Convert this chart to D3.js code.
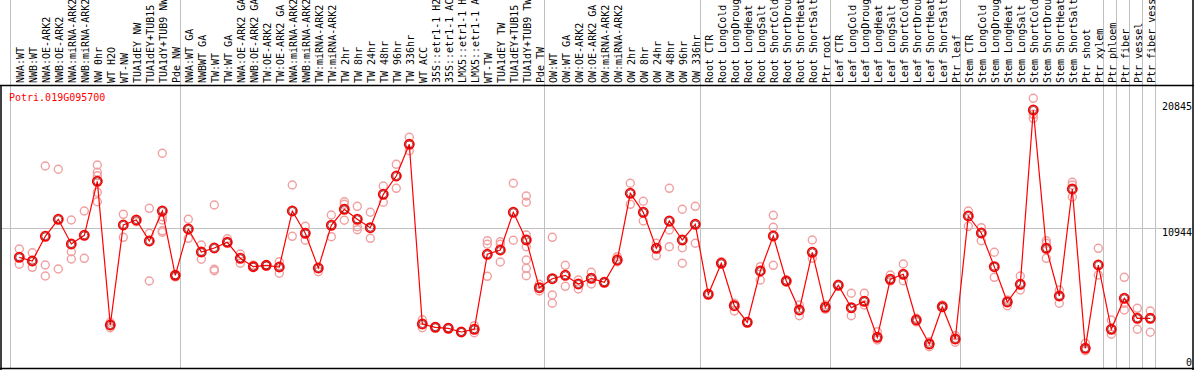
<!DOCTYPE html>
<html>
<head>
<meta charset="utf-8">
<script src="https://cdn.jsdelivr.net/npm/d3@7"></script>
<style>
  body { margin: 0; background: #fff; }
  svg { display: block; font-family: "DejaVu Sans Mono", monospace; }
</style>
</head>
<body>
<script>
const gene = "Potri.019G095700";

const samples = [
  "NWA:WT", "NWB:WT", "NWA:OE-ARK2", "NWB:OE-ARK2", "NWA:miRNA-ARK2", "NWB:miRNA-ARK2",
  "NW 0hr", "WT H2O", "WT-NW", "TUA1dEY NW", "TUA1dEY+TUB15 NW", "TUA1dY+TUB9 NW", "Pde NW",
  "NWA:WT GA", "NWBWT GA", "TW:WT", "TW:WT GA", "NWA:OE-ARK2 GA", "NWB:OE-ARK2 GA",
  "TW:OE-ARK2", "TW:OE-ARK2 GA", "NWA:miRNA-ARK2 GA", "NWB:miRNA-ARK2 GA", "TW:miRNA-ARK2",
  "TW:miRNA-ARK2 GA", "TW 2hr", "TW 8hr", "TW 24hr", "TW 48hr", "TW 96hr", "TW 336hr",
  "WT ACC", "35S::etr1-1 H2O", "35S::etr1-1 ACC", "LMX5::etr1-1 H2O", "LMX5::etr1-1 ACC",
  "WT-TW", "TUA1dEY TW", "TUA1dEY+TUB15 TW", "TUA1dY+TUB9 TW", "Pde TW",
  "OW:WT", "OW:WT GA", "OW:OE-ARK2", "OW:OE-ARK2 GA", "OW:miRNA-ARK2", "OW:miRNA-ARK2 GA",
  "OW 2hr", "OW 8hr", "OW 24hr", "OW 48hr", "OW 96hr", "OW 336hr",
  "Root CTR", "Root LongCold", "Root LongDrought", "Root LongHeat", "Root LongSalt",
  "Root ShortCold", "Root ShortDrought", "Root ShortHeat", "Root ShortSalt", "Ptr root",
  "Leaf CTR", "Leaf LongCold", "Leaf LongDrought", "Leaf LongHeat", "Leaf LongSalt",
  "Leaf ShortCold", "Leaf ShortDrought", "Leaf ShortHeat", "Leaf ShortSalt", "Ptr leaf",
  "Stem CTR", "Stem LongCold", "Stem LongDrought", "Stem LongHeat", "Stem LongSalt",
  "Stem ShortCold", "Stem ShortDrought", "Stem ShortHeat", "Stem ShortSalt",
  "Ptr shoot", "Ptr xylem", "Ptr phloem", "Ptr fiber", "Ptr vessel", "Ptr fiber vessel"
];

// mean expression per sample
const means = [
  8655, 8363, 10312, 11654, 9705, 10391, 14652, 3314, 11204, 11598, 9941, 12308, 7235,
  10888, 9074, 9389, 9839, 8576, 7914, 8024, 7890, 12308, 10549, 7811, 11180,
  12443, 11654, 10991, 13626, 15070, 17571, 3393, 3132, 3053, 2762, 2975,
  8892, 9231, 12206, 10020, 6257,
  6967, 7235, 6549, 6998, 6683, 8442, 13705, 12206, 9365, 11519, 10020, 11259,
  5736, 8182, 4837, 3527, 7574, 10336, 6785, 4497, 9050, 4710,
  6446, 4679, 5184, 2343, 6920, 7314, 3708, 1815, 4758, 2209,
  11914, 10573, 7914, 5129, 6525, 20277, 9365, 5602, 14044,
  1475, 8048, 2975, 5420, 3842, 3842
];

// individual replicates per sample
const replicates = [
  [9310, 8103], [9018, 7866], [15859, 8048, 7180], [15599, 7732], [11598, 9097, 8521],
  [12308, 8576], [15938, 15362, 15094, 13784, 13042], [3527, 3101], [12048, 10233], [11464],
  [12521, 10549, 6785], [16861, 11859, 11598, 10754, 10628], [7259, 7101],
  [11654, 10154], [9626, 8498], [12782, 7709, 7598], [10123, 9839], [8916, 8182],
  [7914, 8048], [8048, 7969], [8308, 7393], [14360, 10312], [11101, 9997], [7519],
  [11993, 10281], [13042, 12837, 11575], [12679, 11070, 10833], [12206, 10154],
  [14281, 12995], [15993, 14099], [18123, 17066], [3732, 3101], [3180], [3101], [2785],
  [3259, 2706], [9965, 9681, 7156], [9886, 9681, 8285], [14494, 9997],
  [13492, 12995, 10415, 9492, 8442, 7787, 7204], [6525, 5996],
  [10233, 5681, 5026], [8024, 6367], [6864, 6154], [7472, 6549], [6730], [8703, 8308],
  [14494, 12837], [13074, 11519], [9760, 8782], [14099, 10809, 9492], [12443, 9413, 8182],
  [12679, 9760],
  [5815], [8308], [5026, 4418], [3574], [7914, 6864], [11969, 11022, 8024], [6864, 6683],
  [4892, 4048], [10020, 8576], [4892, 4553],
  [6525], [5815, 4048], [5815, 4892], [2785, 2130], [7259, 6785], [8127, 6809], [3850, 3560],
  [1996, 1602], [4892, 4679], [2470, 1949],
  [12308, 11101], [10991, 9965], [9050, 7077], [5286, 4837], [7180, 6075],
  [21200, 19938, 19622], [9965, 9760, 8576], [6075, 5026], [14573, 14360, 13413],
  [1870, 1286], [9365, 7259], [3708, 2580], [7077, 5026, 4497], [4631, 2975], [4418, 2738]
];

// samples followed by a vertical separator
const groupEnds = ["Pde NW", "Pde TW", "OW 336hr", "Ptr root", "Ptr leaf",
  "Ptr xylem", "Ptr phloem", "Ptr fiber", "Ptr vessel", "Ptr fiber vessel"];

const yTicks = [0, 10944, 20845];
const yMax = 22250;

const width = 1194, height = 370;
const plotTop = 85, plotBottom = 367;

const svg = d3.select("body").append("svg")
    .attr("width", width)
    .attr("height", height);

const x = d3.scalePoint(samples, [19.3, 1150.3]);
const y = d3.scaleLinear([0, yMax], [plotBottom, plotTop]);

// grid
const grid = svg.append("g")
    .attr("stroke", "#c0c0c0")
    .attr("stroke-width", 1);

grid.selectAll("line.v")
  .data([x(samples[0]) - 9.3, ...groupEnds.map(d => x(d) + 5)])
  .join("line")
    .attr("class", "v")
    .attr("x1", d => Math.round(d) + 0.5)
    .attr("x2", d => Math.round(d) + 0.5)
    .attr("y1", 0)
    .attr("y2", 369);

grid.append("line")
    .attr("x1", 1)
    .attr("x2", 1193)
    .attr("y1", Math.round(y(10944)) + 0.5)
    .attr("y2", Math.round(y(10944)) + 0.5);

// sample labels, rotated (long ones run off the top, as in the source)
svg.append("g")
    .attr("font-size", 10)
    .attr("fill", "#000")
  .selectAll("text")
  .data(samples)
  .join("text")
    .attr("transform", d => `translate(${x(d) + 4.2},83) rotate(-90)`)
    .text(d => d);

// frame
const frame = svg.append("g")
    .attr("stroke", "#000")
    .attr("stroke-width", 1.5)
    .attr("fill", "none");
frame.append("line").attr("x1", 0).attr("x2", width).attr("y1", 85.5).attr("y2", 85.5);
frame.append("line").attr("x1", 1).attr("x2", 1).attr("y1", 85).attr("y2", 370);
frame.append("line").attr("x1", 0).attr("x2", width).attr("y1", 368.5).attr("y2", 368.5);
frame.append("line").attr("x1", 1193).attr("x2", 1193).attr("y1", 0).attr("y2", 370);

// y labels on the right
const yAxis = svg.append("g")
    .attr("transform", "translate(1192,0)")
    .call(d3.axisLeft(y).tickValues(yTicks).tickSize(0).tickPadding(0).tickFormat(d3.format("d")));
yAxis.select(".domain").remove();
yAxis.selectAll("text")
    .attr("font-family", "DejaVu Sans Mono, monospace")
    .attr("font-size", 10)
    .attr("fill", "#000")
    .attr("dy", d => d === 0 ? "-0.2em" : "0.7em");

// gene name
svg.append("text")
    .attr("x", 9)
    .attr("y", 101)
    .attr("font-size", 10)
    .attr("fill", "#ff0000")
    .text(gene);

// replicate points
const reps = samples.flatMap((s, i) => replicates[i].map(v => ({s, v})));
svg.append("g")
    .attr("fill", "none")
    .attr("stroke", "#f0a0a0")
    .attr("stroke-width", 1.4)
  .selectAll("circle")
  .data(reps)
  .join("circle")
    .attr("cx", d => x(d.s))
    .attr("cy", d => y(d.v))
    .attr("r", 4);

// mean line
const line = d3.line()
    .x((d, i) => x(samples[i]))
    .y(d => y(d));

svg.append("path")
    .attr("d", line(means))
    .attr("fill", "none")
    .attr("stroke", "#ff0000")
    .attr("stroke-width", 1.2);

// mean markers
const meanG = svg.append("g")
    .attr("fill", "none");
meanG.selectAll("circle.outer")
  .data(means)
  .join("circle")
    .attr("class", "outer")
    .attr("cx", (d, i) => x(samples[i]))
    .attr("cy", d => y(d))
    .attr("r", 4.6)
    .attr("stroke", "#ff0000")
    .attr("stroke-width", 1.7);
meanG.selectAll("circle.inner")
  .data(means)
  .join("circle")
    .attr("class", "inner")
    .attr("cx", (d, i) => x(samples[i]))
    .attr("cy", d => y(d))
    .attr("r", 3.5)
    .attr("stroke", "#700000")
    .attr("stroke-width", 0.7);
</script>
</body>
</html>
